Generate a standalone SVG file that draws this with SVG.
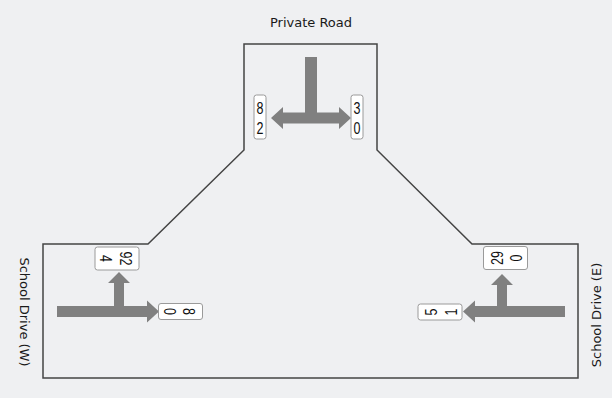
<svg xmlns="http://www.w3.org/2000/svg" width="612" height="398" viewBox="0 0 612 398">
  <style>
    .road { fill: none; stroke: #444; stroke-width: 1.5; stroke-linejoin: miter; }
    .mv { fill: #808080; stroke: none; }
    .box { fill: #fff; stroke: #9a9a9a; stroke-width: 1; }
    .cnt { font-family: "Liberation Sans", Arial, sans-serif; font-size: 12.5px; fill: #111; text-anchor: middle; }
    .name { font-family: "DejaVu Sans", "Liberation Sans", sans-serif; font-size: 13px; fill: #1a1a1a; }
  </style>
  <rect x="0" y="0" width="612" height="398" fill="#eff0f2"/>

  <!-- intersection outline -->
  <g id="roadway">
    <path class="road" d="M244,44 H377 V150 L472,244 H578 V378 H43 V244 H148 L244,150 Z"/>
  </g>

  <!-- street names -->
  <g id="name-north">
    <text class="name" x="311" y="27" text-anchor="middle">Private Road</text>
  </g>
  <g id="name-west">
    <text class="name" transform="translate(19.5,312) rotate(90)" text-anchor="middle">School Drive (W)</text>
  </g>
  <g id="name-east">
    <text class="name" transform="translate(601,315) rotate(-90)" text-anchor="middle">School Drive (E)</text>
  </g>

  <!-- turning movement arrows -->
  <g id="connectors">
    <path class="mv" d="M305,57 H317 V112.5 H339 V107 L351,118 L339,129 V123.5 H283 V129 L271,118 L283,107 V112.5 H305 Z"/>
    <path class="mv" d="M57,306 H114 V283 H108 L119,272 L130,283 H124 V306 H147 V300.5 L159,311.5 L147,322.5 V317 H57 Z"/>
    <path class="mv" d="M565,306 H507 V285 H513 L502,274 L491,285 H497 V306 H475 V300.5 L463,311.5 L475,322.5 V317 H565 Z"/>
  </g>

  <!-- movement counts: two stacked lines, drawn tall and narrow -->
  <g id="count-n-right" transform="translate(260,117)">
    <rect class="box" x="-6" y="-22" width="12" height="44" rx="2.5"/>
    <text class="cnt" transform="scale(1,1.36)"><tspan x="0" y="-1.9">8</tspan><tspan x="0" y="12.4">2</tspan></text>
  </g>
  <g id="count-n-left" transform="translate(357,117)">
    <rect class="box" x="-6" y="-22" width="12" height="44" rx="2.5"/>
    <text class="cnt" transform="scale(1,1.36)"><tspan x="0" y="-1.9">3</tspan><tspan x="0" y="12.4">0</tspan></text>
  </g>
  <g id="count-w-left" transform="translate(117,258.5) rotate(90)">
    <rect class="box" x="-11.5" y="-22" width="23" height="44" rx="2.5"/>
    <text class="cnt" transform="scale(1,1.36)"><tspan x="0" y="-1.9">92</tspan><tspan x="0" y="12.4">4</tspan></text>
  </g>
  <g id="count-w-through" transform="translate(180.5,311.5) rotate(90)">
    <rect class="box" x="-8" y="-22" width="16" height="44" rx="2.5"/>
    <text class="cnt" transform="scale(1,1.36)"><tspan x="0" y="-1.9">8</tspan><tspan x="0" y="12.4">0</tspan></text>
  </g>
  <g id="count-e-right" transform="translate(505.5,258) rotate(-90)">
    <rect class="box" x="-11.5" y="-22" width="23" height="44" rx="2.5"/>
    <text class="cnt" transform="scale(1,1.36)"><tspan x="0" y="-1.9">29</tspan><tspan x="0" y="12.4">0</tspan></text>
  </g>
  <g id="count-e-through" transform="translate(440,312) rotate(-90)">
    <rect class="box" x="-8" y="-22" width="16" height="44" rx="2.5"/>
    <text class="cnt" transform="scale(1,1.36)"><tspan x="0" y="-1.9">5</tspan><tspan x="0" y="12.4">1</tspan></text>
  </g>
</svg>
